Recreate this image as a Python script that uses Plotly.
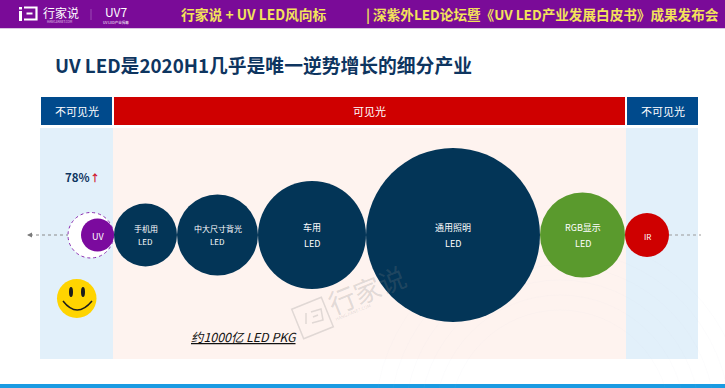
import plotly.graph_objects as go
from itertools import accumulate
from math import cos, sin, radians

CJK = "Noto Sans CJK SC, Open Sans, sans-serif"
W, H = 725, 388

# data
categories = ["UV", "手机用", "中大尺寸背光", "车用", "通用照明", "RGB显示", "IR"]
second_line = ["", "LED", "LED", "LED", "LED", "LED", ""]
bubble_values = [33, 63, 81, 108, 174, 85, 44]
bubble_colors = ["#7B0A9E", "#033557", "#033557", "#033557", "#033557", "#5A9A2D", "#CF0000"]
label_sizes = [9, 8, 8, 9, 9, 9, 8]
bands = ["不可见光", "可见光", "不可见光"]
uv_growth = "78%"
market_note = "约1000亿 LED PKG"
title = "UV LED是2020H1几乎是唯一逆势增长的细分产业"
header_a = "行家说 + UV LED风向标"
header_b = "| 深紫外LED论坛暨《UV LED产业发展白皮书》成果发布会"

first_left, axis_y = 81, 235
edges = list(accumulate(bubble_values, initial=first_left))
centers = [e + v / 2 for e, v in zip(edges, bubble_values)]
WM = "rgba(130,130,130,0.24)"

def rect(x0, y0, x1, y1, color, layer="below"):
    return dict(type="rect", x0=x0, y0=y0, x1=x1, y1=y1, fillcolor=color,
                line=dict(width=0), layer=layer)

def text(x, y, s, size, color="#FFFFFF", anchor="center", **kw):
    return dict(x=x, y=y, text=s, showarrow=False, xanchor=anchor, yanchor="middle",
                font=dict(family=CJK, size=size, color=color), **kw)

def rotated_square(cx, cy, half, deg):
    a = radians(deg)
    pts = [(-half, -half), (half, -half), (half, half), (-half, half)]
    rot = [(cx + p * cos(a) - q * sin(a), cy + p * sin(a) + q * cos(a)) for p, q in pts]
    return "M " + " L ".join(f"{x:.1f} {y:.1f}" for x, y in rot) + " Z"

shapes = [
    rect(0, 0, W, 28, "#7A0B98"),
    rect(0, 28, W, 29, "#D9C3E2"),
    rect(0, 384, W, H, "#1A9BE2"),
    rect(40, 128, 113, 359, "#E2F0FA"),
    rect(113, 128, 626, 359, "#FEF3EF"),
    rect(626, 128, 698, 359, "#E2F0FA"),
    rect(41, 97, 112, 125, "#004A8C"),
    rect(114, 97, 625, 125, "#CF0000"),
    rect(627, 97, 698, 125, "#004A8C"),
    # faint background arcs
    *[dict(type="circle", x0=560 - r, y0=420 - r, x1=560 + r, y1=420 + r, layer="below",
           line=dict(color="rgba(190,200,210,0.05)", width=1)) for r in (110, 125, 140, 155, 170, 185)],
    # dotted axis
    dict(type="line", x0=669, y0=axis_y, x1=701, y1=axis_y, line=dict(color="#9A9A9A", width=1, dash="dot"), layer="below"),
    dict(type="line", x0=30, y0=axis_y, x1=68, y1=axis_y, line=dict(color="#8A8A8A", width=1, dash="dot"), layer="below"),
    # dashed ring round UV
    dict(type="circle", x0=68, y0=212.5, x1=113.5, y1=258, fillcolor="#FFFFFF",
         line=dict(color="#8A2BB0", width=1, dash="dot"), layer="below"),
    # smiley
    dict(type="circle", x0=57, y0=279, x1=96.5, y1=318, fillcolor="#FFD400", line=dict(width=0), layer="above"),
    dict(type="circle", x0=69, y0=287, x1=73, y1=297, fillcolor="#1C1C1C", line=dict(width=0), layer="above"),
    dict(type="circle", x0=81, y0=287, x1=85, y1=297, fillcolor="#1C1C1C", line=dict(width=0), layer="above"),
    dict(type="path", path="M 63 301 Q 77 319 92 301", line=dict(color="#1C1C1C", width=1.5), layer="above"),
    # logo mark
    rect(19, 11, 22, 21, "#FFFFFF", "above"),
    rect(19, 7, 22, 9.5, "#FFFFFF", "above"),
    dict(type="path", path="M 24 7.5 L 36.5 7.5 L 36.5 19.5 L 24 19.5 M 26.5 13.5 L 32.5 13.5",
         line=dict(color="#FFFFFF", width=2.2), layer="above"),
    dict(type="line", x0=91, y0=9, x1=91, y1=20, line=dict(color="#9A4AB3", width=1)),
    # watermark mark
    dict(type="path", path=rotated_square(312.5, 318, 16, -22), line=dict(color=WM, width=1.5), layer="above"),
    dict(type="path", path="M 306 313 L 306 324 M 311 312 L 321 309 L 323 320 L 312 323 M 313 317 L 318 315",
         line=dict(color=WM, width=1.5), layer="above"),
]

annotations = [
    text(179, 14, f"<b>{header_a}</b>", 13.8, "#F3E35A", "left"),
    text(364, 14, f"<b>{header_b}</b>", 13.6, "#F3E35A", "left"),
    text(60.5, 12, "行家说", 12, "#FFFFFF"),
    text(60, 21.5, "HANGJIANET.COM", 3, "#E6D5EC"),
    text(116, 11, "UV7", 12, "#FFFFFF"),
    text(116, 22.5, "UV LED产业揭幕", 3.5, "#FFFFFF"),
    text(53, 64, f"<b>{title}</b>", 18.8, "#0E3560", "left"),
    text(76.5, 111, bands[0], 11, "#FFFFFF"),
    text(369.5, 111, bands[1], 11, "#FFFFFF"),
    text(662.5, 111, bands[2], 11, "#FFFFFF"),
    text(63, 177, f"<b>{uv_growth}</b>", 11.5, "#0E3560", "left"),
    text(94.5, 177, "<b>↑</b>", 10, "#D0122C"),
    text(189, 337, f"<i><u>{market_note}</u></i>", 12.4, "#111111", "left"),
    text(366, 289, "行家说", 27, WM, textangle=-22),
    text(353, 312, "HANGJIANET.COM", 4.5, WM, textangle=-22),
    # arrow head of the left-hand dotted axis
    dict(x=27, y=axis_y, ax=33, ay=axis_y, xref="x", yref="y", axref="x", ayref="y", text="",
         showarrow=True, arrowhead=2, arrowsize=1, arrowwidth=1, arrowcolor="#7A7A7A"),
]

for c, s, l2, ls, v in zip(centers, categories, second_line, label_sizes, bubble_values):
    if l2:
        gap = 8 if v > 100 or s.startswith("RGB") else 6.5
        annotations.append(text(c, axis_y - gap, s, ls))
        annotations.append(text(c, axis_y + gap, l2, ls))
    else:
        annotations.append(text(c, axis_y + 1, s, ls))

fig = go.Figure()
fig.add_trace(go.Scatter(
    x=centers, y=[axis_y] * len(centers), mode="markers", hoverinfo="text", hovertext=categories,
    marker=dict(size=bubble_values, sizemode="diameter", color=bubble_colors, line=dict(width=0), opacity=1),
))
for s in shapes:
    fig.add_shape(**s)
fig.update_layout(
    width=W, height=H, margin=dict(l=0, r=0, t=0, b=0), showlegend=False,
    paper_bgcolor="#FFFFFF", plot_bgcolor="#FFFFFF", annotations=annotations,
    xaxis=dict(range=[0, W], visible=False, fixedrange=True),
    yaxis=dict(range=[H, 0], visible=False, fixedrange=True),
)
fig.write_html("out.html", config={"displayModeBar": False},
               post_script="document.body.style.margin='0';document.body.style.overflow='hidden';")
